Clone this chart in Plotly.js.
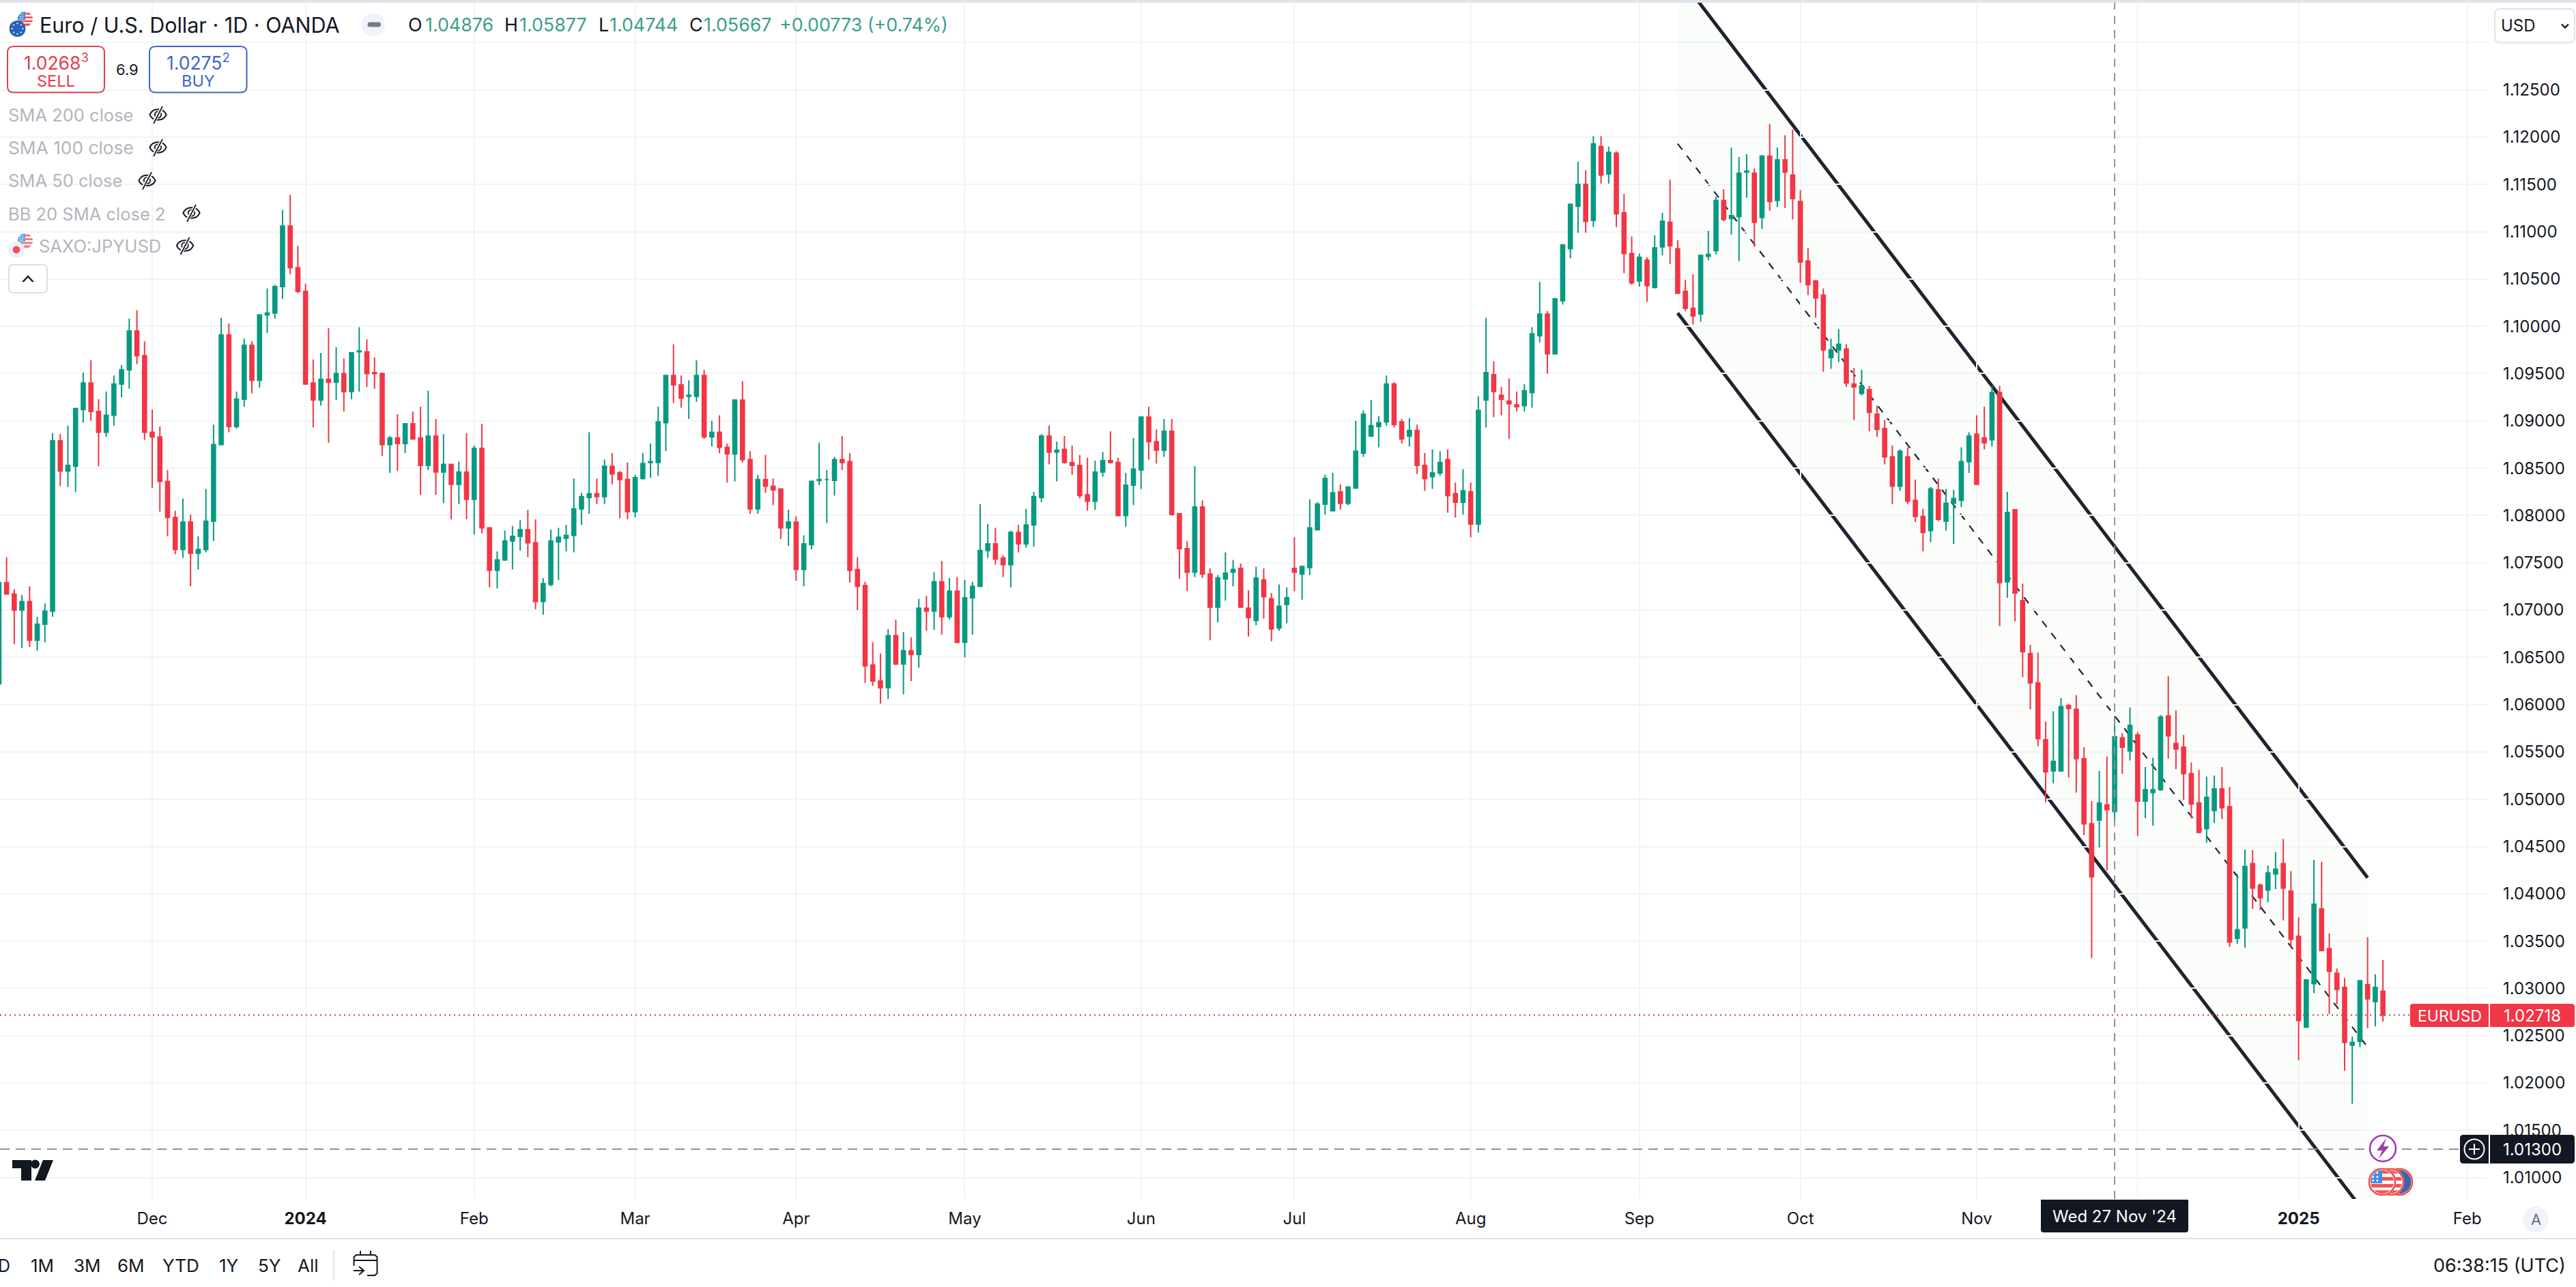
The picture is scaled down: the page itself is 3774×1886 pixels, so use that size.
<!DOCTYPE html>
<html><head><meta charset="utf-8">
<script src="https://cdn.plot.ly/plotly-3.0.1.min.js"></script>
<style>html,body{margin:0;padding:0;background:#fff;overflow:hidden}#c{width:3774px;height:1886px}</style>
</head><body><div id="c"></div>
<script>
// ---------- chart values (daily bars) ----------
const opens=[
1.0622,1.0729,1.0717,1.0700,1.0709,1.0668,1.0685,1.0699,1.0879,1.0847,
1.0852,1.0912,1.0940,1.0910,1.0888,1.0906,1.0939,1.0954,1.0995,1.0969,
1.0888,1.0883,1.0836,1.0798,1.0764,1.0793,1.0760,1.0764,1.0794,1.0875,
1.0991,1.0894,1.0923,1.0980,1.0943,1.1012,1.1014,1.1042,1.1106,1.1062,
1.1037,1.0940,1.0922,1.0944,1.0941,1.0950,1.0931,1.0973,1.0973,1.0951,
1.0950,1.0875,1.0882,1.0876,1.0897,1.0882,1.0853,1.0884,1.0846,1.0854,
1.0833,1.0846,1.0817,1.0871,1.0787,1.0742,1.0753,1.0773,1.0778,1.0785,
1.0771,1.0709,1.0727,1.0772,1.0776,1.0779,1.0807,1.0819,1.0823,1.0820,
1.0852,1.0845,1.0838,1.0804,1.0839,1.0856,1.0856,1.0898,1.0948,1.0938,
1.0926,1.0926,1.0948,1.0883,1.0888,1.0872,1.0865,1.0922,1.0859,1.0807,
1.0838,1.0831,1.0828,1.0787,1.0793,1.0743,1.0769,1.0837,1.0838,1.0837,
1.0859,1.0857,1.0743,1.0726,1.0642,1.0625,1.0618,1.0673,1.0643,1.0657,
1.0653,1.0702,1.0699,1.0730,1.0693,1.0720,1.0666,1.0713,1.0725,1.0763,
1.0770,1.0755,1.0748,1.0782,1.0770,1.0790,1.0819,1.0884,1.0867,1.0870,
1.0856,1.0853,1.0822,1.0815,1.0846,1.0858,1.0856,1.0800,1.0832,1.0848,
1.0904,1.0878,1.0869,1.0889,1.0802,1.0765,1.0740,1.0809,1.0738,1.0703,
1.0733,1.0740,1.0744,1.0702,1.0689,1.0732,1.0712,1.0681,1.0706,1.0744,
1.0738,1.0745,1.0785,1.0812,1.0805,1.0825,1.0813,1.0829,1.0866,1.0884,
1.0894,1.0899,1.0939,1.0899,1.0884,1.0890,1.0853,1.0841,1.0845,1.0859,
1.0823,1.0814,1.0825,1.0791,1.0922,1.0949,1.0927,1.0921,1.0917,1.0916,
1.0930,1.0990,1.1013,1.0971,1.1027,1.1082,1.1127,1.1150,1.1112,1.1190,
1.1161,1.1183,1.1120,1.1077,1.1048,1.1070,1.1041,1.1084,1.1110,1.1082,
1.1037,1.1019,1.1013,1.1074,1.1080,1.1133,1.1114,1.1116,1.1163,1.1162,
1.1115,1.1180,1.1133,1.1176,1.1160,1.1132,1.1069,1.1048,1.1033,1.0967,
1.0975,1.0976,1.0939,1.0929,1.0933,1.0907,1.0892,1.0862,1.0831,1.0862,
1.0816,1.0799,1.0784,1.0827,1.0794,1.0813,1.0816,1.0857,1.0886,1.0882,
1.0880,1.0930,1.0730,1.0806,1.0710,1.0654,1.0623,1.0563,1.0530,1.0530,
1.0599,1.0595,1.0543,1.0474,1.0478,1.0494,1.0487,1.0565,1.0551,1.0568,
1.0498,1.0507,1.0510,1.0588,1.0559,1.0555,1.0527,1.0496,1.0469,1.0488,
1.0511,1.0492,1.0353,1.0364,1.0432,1.0409,1.0404,1.0421,1.0432,1.0403,
1.0355,1.0259,1.0305,1.0384,1.0342,1.0316,1.0301,1.0240,1.0244,1.0304,
1.0286,1.0297];
const highs=[
1.0729,1.0756,1.0722,1.0716,1.0725,1.0693,1.0707,1.0887,1.0886,1.0895,
1.0914,1.0951,1.0964,1.0923,1.0931,1.0948,1.0959,1.1008,1.1017,1.0984,
1.0912,1.0894,1.0848,1.0805,1.0818,1.0801,1.0778,1.0828,1.0896,1.1009,
1.1003,1.0931,1.0987,1.0984,1.1012,1.1040,1.1044,1.1123,1.1139,1.1085,
1.1045,1.0965,1.0972,1.0998,1.0978,1.0966,1.0972,1.0999,1.0986,1.0967,
1.0951,1.0884,1.0907,1.0897,1.0910,1.0915,1.0932,1.0902,1.0886,1.0854,
1.0857,1.0887,1.0874,1.0897,1.0787,1.0762,1.0784,1.0789,1.0795,1.0806,
1.0796,1.0734,1.0785,1.0787,1.0790,1.0839,1.0824,1.0888,1.0839,1.0859,
1.0866,1.0847,1.0856,1.0843,1.0866,1.0876,1.0915,1.0948,1.0981,1.0948,
1.0943,1.0964,1.0954,1.0900,1.0906,1.0876,1.0923,1.0942,1.0868,1.0843,
1.0864,1.0839,1.0828,1.0806,1.0799,1.0779,1.0837,1.0877,1.0848,1.0862,
1.0884,1.0866,1.0756,1.0730,1.0666,1.0654,1.0680,1.0690,1.0677,1.0671,
1.0712,1.0715,1.0740,1.0752,1.0734,1.0735,1.0732,1.0730,1.0812,1.0791,
1.0787,1.0758,1.0784,1.0790,1.0807,1.0825,1.0886,1.0895,1.0878,1.0884,
1.0874,1.0864,1.0861,1.0858,1.0867,1.0889,1.0861,1.0845,1.0882,1.0905,
1.0915,1.0891,1.0902,1.0902,1.0802,1.0773,1.0852,1.0816,1.0744,1.0737,
1.0761,1.0753,1.0749,1.0721,1.0746,1.0744,1.0718,1.0727,1.0724,1.0777,
1.0747,1.0817,1.0814,1.0843,1.0845,1.0833,1.0831,1.0900,1.0911,1.0922,
1.0905,1.0948,1.0941,1.0902,1.0903,1.0896,1.0866,1.0870,1.0868,1.0870,
1.0835,1.0849,1.0835,1.0926,1.1009,1.0963,1.0936,1.0945,1.0931,1.0939,
1.0999,1.1047,1.1016,1.1030,1.1087,1.1130,1.1174,1.1165,1.1201,1.1201,
1.1190,1.1185,1.1140,1.1095,1.1077,1.1073,1.1096,1.1120,1.1155,1.1091,
1.1049,1.1055,1.1075,1.1101,1.1137,1.1145,1.1189,1.1179,1.1182,1.1167,
1.1181,1.1214,1.1189,1.1202,1.1208,1.1144,1.1083,1.1049,1.1040,1.0987,
1.0997,1.0981,1.0956,1.0954,1.0937,1.0916,1.0901,1.0874,1.0870,1.0872,
1.0838,1.0807,1.0830,1.0839,1.0828,1.0827,1.0872,1.0888,1.0906,1.0915,
1.0937,1.0937,1.0825,1.0806,1.0728,1.0663,1.0655,1.0582,1.0593,1.0607,
1.0601,1.0610,1.0555,1.0498,1.0530,1.0545,1.0588,1.0570,1.0597,1.0571,
1.0534,1.0544,1.0589,1.0630,1.0594,1.0568,1.0539,1.0531,1.0524,1.0525,
1.0534,1.0513,1.0421,1.0447,1.0446,1.0411,1.0430,1.0444,1.0458,1.0424,
1.0375,1.0309,1.0436,1.0434,1.0358,1.0321,1.0311,1.0249,1.0308,1.0354,
1.0315,1.0330];
const lows=[
1.0622,1.0717,1.0664,1.0660,1.0661,1.0657,1.0666,1.0693,1.0831,1.0830,
1.0825,1.0898,1.0900,1.0852,1.0883,1.0895,1.0925,1.0934,1.0960,1.0880,
1.0829,1.0804,1.0778,1.0759,1.0755,1.0725,1.0743,1.0761,1.0773,1.0874,
1.0888,1.0892,1.0915,1.0929,1.0935,1.0993,1.1008,1.1029,1.1055,1.1035,
1.0938,1.0893,1.0916,1.0877,1.0922,1.0910,1.0923,1.0931,1.0936,1.0934,
1.0863,1.0845,1.0847,1.0866,1.0880,1.0822,1.0848,1.0822,1.0813,1.0796,
1.0812,1.0796,1.0780,1.0781,1.0724,1.0723,1.0752,1.0743,1.0763,1.0756,
1.0701,1.0695,1.0725,1.0732,1.0762,1.0761,1.0790,1.0802,1.0812,1.0812,
1.0833,1.0797,1.0796,1.0798,1.0838,1.0840,1.0842,1.0868,1.0919,1.0914,
1.0902,1.0920,1.0881,1.0873,1.0866,1.0835,1.0836,1.0856,1.0802,1.0802,
1.0824,1.0811,1.0775,1.0768,1.0731,1.0725,1.0764,1.0832,1.0792,1.0821,
1.0848,1.0729,1.0700,1.0623,1.0620,1.0601,1.0606,1.0642,1.0611,1.0625,
1.0639,1.0678,1.0679,1.0674,1.0690,1.0665,1.0650,1.0674,1.0725,1.0755,
1.0748,1.0735,1.0724,1.0761,1.0766,1.0767,1.0814,1.0854,1.0836,1.0855,
1.0843,1.0818,1.0805,1.0806,1.0841,1.0855,1.0800,1.0788,1.0811,1.0828,
1.0859,1.0855,1.0862,1.0800,1.0733,1.0720,1.0735,1.0734,1.0668,1.0687,
1.0710,1.0725,1.0703,1.0672,1.0684,1.0691,1.0667,1.0678,1.0686,1.0720,
1.0711,1.0737,1.0784,1.0801,1.0805,1.0806,1.0811,1.0828,1.0862,1.0883,
1.0872,1.0895,1.0893,1.0876,1.0873,1.0844,1.0826,1.0828,1.0842,1.0803,
1.0798,1.0801,1.0777,1.0782,1.0893,1.0904,1.0906,1.0881,1.0910,1.0910,
1.0914,1.0983,1.0950,1.0971,1.1023,1.1072,1.1099,1.1099,1.1105,1.1151,
1.1151,1.1105,1.1056,1.1044,1.1042,1.1026,1.1040,1.1075,1.1066,1.1035,
1.1016,1.1002,1.1005,1.1070,1.1076,1.1111,1.1097,1.1069,1.1136,1.1084,
1.1103,1.1122,1.1126,1.1125,1.1113,1.1046,1.1033,1.1009,1.0952,1.0955,
1.0962,1.0936,1.0901,1.0927,1.0889,1.0883,1.0854,1.0812,1.0826,1.0812,
1.0793,1.0762,1.0772,1.0794,1.0784,1.0770,1.0809,1.0845,1.0833,1.0870,
1.0873,1.0683,1.0713,1.0688,1.0629,1.0595,1.0556,1.0497,1.0517,1.0530,
1.0523,1.0507,1.0462,1.0332,1.0449,1.0425,1.0475,1.0527,1.0541,1.0461,
1.0480,1.0472,1.0509,1.0543,1.0532,1.0499,1.0480,1.0464,1.0454,1.0475,
1.0479,1.0344,1.0347,1.0343,1.0384,1.0383,1.0391,1.0405,1.0372,1.0344,
1.0224,1.0259,1.0295,1.0340,1.0273,1.0283,1.0213,1.0178,1.0238,1.0258,
1.0260,1.0265];
const closes=[
1.0729,1.0717,1.0700,1.0709,1.0668,1.0685,1.0699,1.0879,1.0847,1.0853,
1.0913,1.0940,1.0910,1.0888,1.0906,1.0939,1.0954,1.0995,1.0969,1.0888,
1.0883,1.0836,1.0798,1.0764,1.0793,1.0760,1.0764,1.0794,1.0875,1.0991,
1.0894,1.0923,1.0980,1.0943,1.1012,1.1014,1.1042,1.1106,1.1062,1.1037,
1.0939,1.0922,1.0944,1.0941,1.0950,1.0931,1.0972,1.0974,1.0950,1.0950,
1.0875,1.0882,1.0876,1.0897,1.0881,1.0853,1.0884,1.0846,1.0854,1.0833,
1.0846,1.0817,1.0871,1.0787,1.0742,1.0753,1.0773,1.0778,1.0785,1.0771,
1.0709,1.0728,1.0773,1.0777,1.0779,1.0807,1.0820,1.0823,1.0820,1.0852,
1.0844,1.0838,1.0804,1.0840,1.0855,1.0857,1.0899,1.0948,1.0938,1.0924,
1.0927,1.0948,1.0883,1.0888,1.0872,1.0865,1.0922,1.0859,1.0807,1.0838,
1.0831,1.0827,1.0787,1.0793,1.0743,1.0770,1.0836,1.0838,1.0838,1.0859,
1.0856,1.0742,1.0725,1.0641,1.0625,1.0618,1.0673,1.0643,1.0657,1.0653,
1.0702,1.0699,1.0730,1.0693,1.0720,1.0666,1.0713,1.0725,1.0763,1.0770,
1.0754,1.0748,1.0782,1.0770,1.0790,1.0820,1.0884,1.0867,1.0869,1.0856,
1.0853,1.0821,1.0815,1.0846,1.0858,1.0856,1.0800,1.0832,1.0849,1.0904,
1.0878,1.0869,1.0889,1.0801,1.0765,1.0740,1.0809,1.0738,1.0703,1.0734,
1.0739,1.0743,1.0703,1.0692,1.0734,1.0714,1.0680,1.0704,1.0713,1.0740,
1.0746,1.0787,1.0812,1.0839,1.0824,1.0813,1.0830,1.0868,1.0907,1.0895,
1.0898,1.0939,1.0896,1.0881,1.0890,1.0853,1.0839,1.0845,1.0856,1.0821,
1.0814,1.0826,1.0791,1.0911,1.0951,1.0931,1.0923,1.0918,1.0915,1.0932,
1.0992,1.1013,1.0971,1.1029,1.1086,1.1129,1.1150,1.1111,1.1193,1.1160,
1.1184,1.1119,1.1077,1.1046,1.1073,1.1043,1.1083,1.1111,1.1085,1.1035,
1.1019,1.1011,1.1075,1.1076,1.1133,1.1113,1.1117,1.1162,1.1164,1.1110,
1.1180,1.1132,1.1176,1.1163,1.1135,1.1068,1.1044,1.1030,1.0975,1.0975,
1.0981,1.0940,1.0936,1.0937,1.0909,1.0891,1.0862,1.0831,1.0868,1.0815,
1.0799,1.0782,1.0828,1.0796,1.0813,1.0818,1.0857,1.0884,1.0833,1.0877,
1.0930,1.0729,1.0803,1.0718,1.0656,1.0623,1.0564,1.0529,1.0540,1.0598,
1.0596,1.0543,1.0474,1.0418,1.0496,1.0489,1.0566,1.0555,1.0578,1.0498,
1.0510,1.0510,1.0587,1.0567,1.0553,1.0527,1.0495,1.0465,1.0502,1.0511,
1.0491,1.0349,1.0362,1.0429,1.0406,1.0396,1.0422,1.0426,1.0406,1.0352,
1.0266,1.0309,1.0389,1.0340,1.0318,1.0299,1.0243,1.0243,1.0308,1.0289,
1.0301,1.02718];
const timeTickBars=[20,40,62,83,104,126,149,169,192,214,235,258,300,322];
const timeTickLabels=['Dec','<b>2024</b>','Feb','Mar','Apr','May','Jun','Jul','Aug','Sep','Oct','Nov','<b>2025</b>','Feb'];
const unlabelledGridBar=279;
const priceTicks=[1.125,1.12,1.115,1.11,1.105,1.10,1.095,1.09,1.085,1.08,1.075,1.07,1.065,1.06,1.055,1.05,1.045,1.04,1.035,1.03,1.025,1.02,1.015,1.01];
const priceTickLabels=['1.12500','1.12000','1.11500','1.11000','1.10500','1.10000','1.09500','1.09000','1.08500','1.08000','1.07500','1.07000','1.06500','1.06000','1.05500','1.05000','1.04500','1.04000','1.03500','1.03000','1.02500','1.02000','1.01500','1.01000'];
const unlabelledGridPrice=1.13;
const channelBars=[219,309];
const channelUpper=[1.1372,1.0417];
const channelMiddle=[1.1193,1.0238];
const channelLower=[1.1014,1.0059];
const lastPrice=1.02718;
const crossPrice=1.01300;
const crossBar=276;
const xRange=[0.142,324.7];
const yRange=[1.00774,1.13421];

// ---------- helpers ----------
const PW=3645,TOP=4,BOT=1757,FONT='Inter, "Noto Sans", sans-serif';
const X=x=>x/PW, Y=y=>(BOT-y)/(BOT-TOP);
const INK='#131722',UP='#089981',DOWN='#f23645',GRID='#f1f3f6';
const shapes=[],notes=[],images=[];
const rect=(x0,y0,x1,y1,fill,line,lw)=>shapes.push({type:'rect',xref:'paper',yref:'paper',x0:X(x0),x1:X(x1),y0:Y(y0),y1:Y(y1),fillcolor:fill||'rgba(0,0,0,0)',line:{color:line||'rgba(0,0,0,0)',width:lw||0},layer:'above'});
const circ=(cx,cy,r,fill,line,lw)=>shapes.push({type:'circle',xref:'paper',yref:'paper',x0:X(cx-r),x1:X(cx+r),y0:Y(cy-r),y1:Y(cy+r),fillcolor:fill||'rgba(0,0,0,0)',line:{color:line||'rgba(0,0,0,0)',width:lw||0},layer:'above'});
const P=(x,y)=>X(x).toFixed(6)+','+Y(y).toFixed(6);
function path(pts,fill,line,lw,close){
  let d='M'+pts.map(p=>P(p[0],p[1])).join(' L')+(close?' Z':'');
  shapes.push({type:'path',xref:'paper',yref:'paper',path:d,fillcolor:fill||'rgba(0,0,0,0)',line:{color:line||'rgba(0,0,0,0)',width:lw||0},layer:'above'});
}
function rr(x0,y0,x1,y1,r,fill,line,lw,c){
  c=c||[r,r,r,r];
  const d='M'+P(x0+c[0],y0)+' L'+P(x1-c[1],y0)+' Q'+P(x1,y0)+' '+P(x1,y0+c[1])+' L'+P(x1,y1-c[2])+' Q'+P(x1,y1)+' '+P(x1-c[2],y1)+' L'+P(x0+c[3],y1)+' Q'+P(x0,y1)+' '+P(x0,y1-c[3])+' L'+P(x0,y0+c[0])+' Q'+P(x0,y0)+' '+P(x0+c[0],y0)+' Z';
  shapes.push({type:'path',xref:'paper',yref:'paper',path:d,fillcolor:fill||'rgba(0,0,0,0)',line:{color:line||'rgba(0,0,0,0)',width:lw||0},layer:'above'});
}
function T(x,y,text,size,color,anchor){
  notes.push({xref:'paper',yref:'paper',x:X(x),y:Y(y),text:text,showarrow:false,xanchor:anchor||'left',yanchor:'middle',borderpad:0,font:{family:FONT,size:size,color:color||INK}});
}
function img(svg,cx,cy,w,h,op){
  images.push({source:'data:image/svg+xml;utf8,'+encodeURIComponent(svg),xref:'paper',yref:'paper',x:X(cx),y:Y(cy),sizex:w/PW,sizey:h/(BOT-TOP),xanchor:'center',yanchor:'middle',sizing:'stretch',layer:'above',opacity:op==null?1:op});
}
const NS='xmlns="http://www.w3.org/2000/svg"';
const usFlag=(ring)=>`<svg ${NS} viewBox="0 0 40 40"><defs><clipPath id="a"><circle cx="20" cy="20" r="${ring?16.5:20}"/></clipPath></defs><circle cx="20" cy="20" r="20" fill="#fff"/><g clip-path="url(#a)"><rect width="40" height="40" fill="#fff"/><rect y="3" width="40" height="5" fill="#ef5350"/><rect y="13" width="40" height="5" fill="#ef5350"/><rect y="23" width="40" height="5" fill="#ef5350"/><rect y="32" width="40" height="6" fill="#ef5350"/><rect width="20" height="22" fill="#3f8fe0"/><g fill="#fff"><circle cx="7" cy="7" r="1.5"/><circle cx="13" cy="7" r="1.5"/><circle cx="7" cy="13" r="1.5"/><circle cx="13" cy="13" r="1.5"/><circle cx="7" cy="18" r="1.5"/><circle cx="13" cy="18" r="1.5"/></g></g>${ring?'<circle cx="20" cy="20" r="18.6" fill="none" stroke="#ef5350" stroke-width="2.6"/>':''}</svg>`;
const euro=`<svg ${NS} viewBox="0 0 40 40"><circle cx="20" cy="20" r="20" fill="#2962b8"/><g fill="#cfe0f5"><circle cx="20" cy="7" r="2"/><circle cx="20" cy="33" r="2"/><circle cx="7" cy="20" r="2"/><circle cx="33" cy="20" r="2"/><circle cx="11" cy="11" r="2"/><circle cx="29" cy="11" r="2"/><circle cx="11" cy="29" r="2"/><circle cx="29" cy="29" r="2"/></g></svg>`;
const jpy=`<svg ${NS} viewBox="0 0 40 40"><circle cx="20" cy="20" r="20" fill="#eef0f6"/><circle cx="20" cy="20" r="9" fill="#f0505a"/></svg>`;
const eye=`<svg ${NS} viewBox="0 0 32 32"><path d="M3 16 C8 5 24 5 29 16 C24 27 8 27 3 16Z" fill="none" stroke="#131722" stroke-width="2"/><circle cx="16" cy="16" r="5" fill="none" stroke="#131722" stroke-width="2"/><path d="M8 30 L24 2" stroke="#fff" stroke-width="5"/><path d="M9 30 L23 3" stroke="#131722" stroke-width="2"/></svg>`;
const usRing3=`<svg ${NS} viewBox="0 0 40 40"><defs><clipPath id="b"><circle cx="20" cy="20" r="17"/></clipPath></defs><circle cx="20" cy="20" r="20" fill="#fff"/><g clip-path="url(#b)"><rect width="40" height="40" fill="#3f62ad"/></g><circle cx="20" cy="20" r="18.6" fill="none" stroke="#ef5350" stroke-width="2.6"/></svg>`;

// ---------- channel (below the candles), via the price/bar scales ----------
const cb=channelBars,cu=channelUpper,cl=channelLower,cm=channelMiddle;
shapes.push(
 {type:'line',xref:'paper',yref:'y',layer:'below',x0:0,x1:1,y0:unlabelledGridPrice,y1:unlabelledGridPrice,line:{color:GRID,width:2}},
 {type:'line',xref:'x',yref:'paper',layer:'below',x0:unlabelledGridBar,x1:unlabelledGridBar,y0:0,y1:1,line:{color:GRID,width:2}},
 {type:'path',xref:'x',yref:'y',layer:'below',line:{width:0,color:'rgba(0,0,0,0)'},fillcolor:'rgba(76,175,80,0.028)',
  path:`M${cb[0]},${cu[0]} L${cb[1]},${cu[1]} L${cb[1]},${cl[1]} L${cb[0]},${cl[0]} Z`},
 {type:'line',xref:'x',yref:'y',layer:'below',x0:cb[0],x1:cb[1],y0:cu[0],y1:cu[1],line:{color:'#20232e',width:5}},
 {type:'line',xref:'x',yref:'y',layer:'below',x0:cb[0],x1:cb[1],y0:cl[0],y1:cl[1],line:{color:'#20232e',width:5}},
 {type:'line',xref:'x',yref:'y',layer:'below',x0:cb[0],x1:cb[1],y0:cm[0],y1:cm[1],line:{color:'#20232e',width:2.2,dash:'11px,11px'}},
 {type:'line',xref:'paper',yref:'y',layer:'above',x0:0,x1:X(3530),y0:lastPrice,y1:lastPrice,line:{color:'#b5424c',width:2,dash:'2px,5px'}},
 {type:'line',xref:'x',yref:'paper',layer:'above',x0:crossBar,x1:crossBar,y0:0,y1:1,line:{color:'#8f929b',width:2,dash:'12px,9px'}},
 {type:'line',xref:'paper',yref:'y',layer:'above',x0:0,x1:X(3604),y0:crossPrice,y1:crossPrice,line:{color:'#8f929b',width:2,dash:'14px,9px'}}
);

// ---------- chrome ----------
rect(0,0,3774,4,'#e0e3eb');
img(usFlag(false),37,28,22,22); img(euro,25.5,42,24,24);
T(57,36.5,'Euro / U.S. Dollar · 1D · OANDA',30.5,INK);
circ(547,36,17,'#f0f3fa'); rr(538.5,32.5,558,39.5,3.5,'#787b86');
const G='#3d9f8a',HS=26.8;
T(597,36.5,'O',HS,INK);T(622,36.5,'1.04876',HS,G);
T(738,36.5,'H',HS,INK);T(760,36.5,'1.05877',HS,G);
T(876,36.5,'L',HS,INK);T(892,36.5,'1.04744',HS,G);
T(1009,36.5,'C',HS,INK);T(1030,36.5,'1.05667',HS,G);
T(1141,36.5,'+0.00773 (+0.74%)',HS,G);
rr(11,68,153,135.5,9,'#fff','#e0404f',2);
T(82,91,'1.0268<sup>3</sup>',26.5,'#e0404f','center');T(82,118,'SELL',23.5,'#e0404f','center');
T(186,102,'6.9',22,INK,'center');
rr(219,68,361.5,135.5,9,'#fff','#3d66c7',2);
T(290,91,'1.0275<sup>2</sup>',26.5,'#3d66c7','center');T(290,118,'BUY',23.5,'#3d66c7','center');
const LG='#b2b5be',LS=25.5;
T(11,168.5,'SMA 200 close',LS,LG);img(eye,231.5,168,30,30);
T(11,216.5,'SMA 100 close',LS+0.8,LG);img(eye,231.5,216,30,30);
T(11,265,'SMA 50 close',LS,LG);img(eye,215.5,264.5,30,30);
T(11,313,'BB 20 SMA close 2',LS,LG);img(eye,280.5,312,30,30);
T(56,360.5,'SAXO:JPYUSD',LS,LG);img(eye,271,360,30,30);
img(usFlag(false),37,353,22,22,0.8);img(jpy,24,366,24,24);
rr(13,388,69,429,6,'#fff','#d1d4dc',1.5);
path([[33.5,413],[41,405],[48.5,413]],null,INK,2.4);
// TV logo
path([[18,1700],[46,1700],[46,1730],[31,1730],[31,1712],[18,1712]],INK,null,0,true);
circ(51.5,1706,6.5,INK);
path([[63,1700],[78,1700],[66,1730],[51,1730]],INK,null,0,true);
// USD box
rr(3655,13,3772,62.5,8,'#fff','#e0e3eb',2);
T(3663,38,'USD',24,INK);
path([[3753,35.5],[3758,40.5],[3763,35.5]],null,INK,2.4);
// price tags
rr(3531,1471,3646,1505,4,DOWN,null,0,[4,0,0,4]);
T(3588.5,1488.5,'EURUSD',23,'#fff','center');
rr(3648,1471,3772,1505,4,DOWN,null,0,[0,4,4,0]);
T(3710,1488.5,'1.02718',24,'#fff','center');
// icons under last bar
circ(3491,1683,19,'#fff','#9c3cb0',2.6);
path([[3496,1668],[3482,1686],[3490,1686],[3485,1698],[3500,1680],[3492,1680]],'#9c3cb0',null,0,true);
img(usRing3,3515,1732,41,41);img(usFlag(true),3502,1732,41,41);img(usFlag(true),3490,1732,41,41);
// crosshair tags
rr(3604,1663,3646,1705,5,INK,null,0,[5,0,0,5]);
circ(3625,1684,14.5,null,'#fff',2);
path([[3617,1684],[3633,1684]],null,'#fff',2);path([[3625,1676],[3625,1692]],null,'#fff',2);
rr(3648,1663,3772,1705,5,INK,null,0,[0,5,5,0]);
T(3710,1684,'1.01300',24,'#fff','center');
rr(2990,1758,3206,1806,4,INK,null,0,[0,0,4,4]);
T(3098,1782,"Wed 27 Nov '24",24,'#fff','center');
// time-axis "A" badge
circ(3715,1787,19,'#f0f3fa');T(3715,1787,'A',22,'#6a6d78','center');
// bottom bar
rect(0,1814,3774,1816,'#e0e3eb');
T(16,1855,'D',25,INK,'right');
[['1M',62],['3M',127.5],['6M',192],['YTD',265],['1Y',335],['5Y',394],['All',451.5]].forEach(b=>T(b[1],1855,b[0],26,INK,'center'));
rect(488,1832,490,1877,'#e0e3eb');
path([[518.5,1855],[518.5,1842],[522,1839],[549,1839],[552.5,1842],[552.5,1866],[549,1869],[538,1869]],null,INK,2);
path([[518.5,1847],[552.5,1847]],null,INK,2);
path([[528,1833],[528,1839]],null,INK,2);path([[543,1833],[543,1839]],null,INK,2);
path([[518,1862],[533,1862]],null,INK,2);path([[526,1856],[533,1862],[526,1868]],null,INK,2);
T(3760,1855,'06:38:15 (UTC)',27,INK,'right');

// ---------- chart ----------
const bars=opens.map((_,i)=>i);
const data=[{type:'candlestick',x:bars,open:opens,high:highs,low:lows,close:closes,whiskerwidth:0,hoverinfo:'skip',
  increasing:{line:{color:UP,width:2},fillcolor:UP},decreasing:{line:{color:DOWN,width:2},fillcolor:DOWN}}];
const layout={width:3774,height:1886,margin:{l:0,r:129,t:4,b:129},paper_bgcolor:'#fff',plot_bgcolor:'#fff',showlegend:false,boxgap:0.5,boxgroupgap:0,
  font:{family:FONT,color:INK},dragmode:false,hovermode:false,
  xaxis:{type:'linear',range:xRange,tickmode:'array',tickvals:timeTickBars,ticktext:timeTickLabels,showgrid:true,gridcolor:GRID,gridwidth:2,zeroline:false,showline:false,ticks:'',ticklabelstandoff:12,tickfont:{family:FONT,size:24,color:INK},rangeslider:{visible:false},tickangle:0},
  yaxis:{type:'linear',side:'right',range:yRange,tickmode:'array',tickvals:priceTicks,ticktext:priceTickLabels,showgrid:true,gridcolor:GRID,gridwidth:2,zeroline:false,showline:false,ticks:'',ticklabelstandoff:21,tickfont:{family:FONT,size:24,color:INK}},
  shapes:shapes,annotations:notes,images:images};
Plotly.newPlot('c',data,layout,{staticPlot:true,displayModeBar:false});
</script></body></html>
